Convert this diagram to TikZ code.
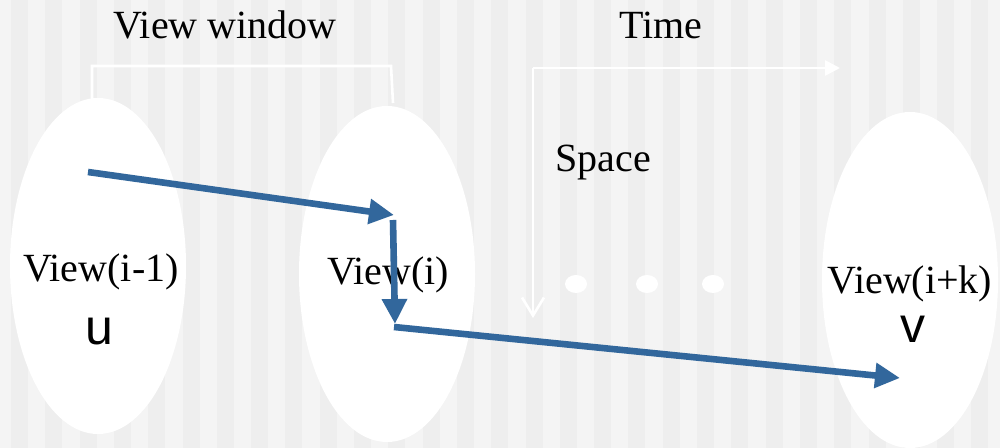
\documentclass[tikz,border=0pt]{standalone}
\usepackage{fontspec}
\setmainfont{Liberation Serif}
\newfontfamily\sansfont{Liberation Sans}
\usetikzlibrary{arrows.meta,positioning,shapes.geometric}
\definecolor{stripelight}{HTML}{F4F4F4}
\definecolor{stripedark}{HTML}{EEEEEE}
\definecolor{pathblue}{HTML}{32679C}

\begin{document}
\begin{tikzpicture}[
    x=0.5pt, y=-0.5pt,
    view/.style={ellipse, fill=white, inner sep=0pt, minimum width=88pt, minimum height=168pt},
    lbl/.style={inner sep=0pt, anchor=base, font=\fontsize{20}{24}\selectfont},
    vtx/.style={inner sep=0pt, anchor=base, font=\sansfont\fontsize{25}{30}\selectfont},
    gap/.style={ellipse, fill=white, inner sep=0pt, minimum width=11pt, minimum height=9pt},
    hop/.style={-{Triangle[length=12.5pt, width=12pt]}, line width=3.3pt, draw=pathblue, fill=pathblue},
    axis/.style={draw=white, line width=1.3pt}
]
\useasboundingbox (0,0) rectangle (1000,448);
\fill[stripelight] (0,0) rectangle (1000,448);
\foreach \k in {0,...,28}
    \fill[stripedark] ({11+34.3*\k},0) rectangle ({28+34.3*\k},448);

% window bracket and axes
\coordinate (winl) at (92,100);
\coordinate (winr) at (393,103);
\draw[axis] (winl) -- (92,66) -- (391,66) -- (winr);
\coordinate (origin) at (533,68);
\coordinate (tend) at (840,68);
\coordinate (send) at (533,318);
\draw[axis, -{Triangle[length=7.5pt, width=7.5pt]}, fill=white] (origin) -- (tend);
\draw[axis, -{Straight Barb[length=9pt, width=11pt]}] (origin) -- (send);

% views
\node[view] (prev) at (98,266) {};
\node[view] (cur) at (387,274) {};
\node[view] (next) at (910,280) {};
\node[gap] (gapa) at (576,284) {};
\node[gap] (gapb) at (647,284) {};
\node[gap] (gapc) at (713,284) {};

% texts
\node[lbl] (wintxt) at (225,39) {View window};
\node[lbl] (timetxt) at (661,39) {Time};
\node[lbl] (spacetxt) at (603,172) {Space};
\node[lbl] (prevtxt) at (101,282) {View(i-1)};
\node[lbl] (curtxt) at (388,285) {View(i)};
\node[lbl] (nexttxt) at (910,294) {View(i+k)};
\node[vtx] (u) at (99,344) {u};
\node[vtx] (v) at (913,343) {v};

% path
\coordinate (src) at (88,172);
\coordinate (hit) at (394,215);
\coordinate (drop) at (393,220);
\coordinate (land) at (395,324);
\coordinate (leave) at (394,327);
\coordinate (dst) at (900,378);
\draw[hop] (src) -- (hit);
\draw[hop] (drop) -- (land);
\draw[hop] (leave) -- (dst);
\end{tikzpicture}
\end{document}
